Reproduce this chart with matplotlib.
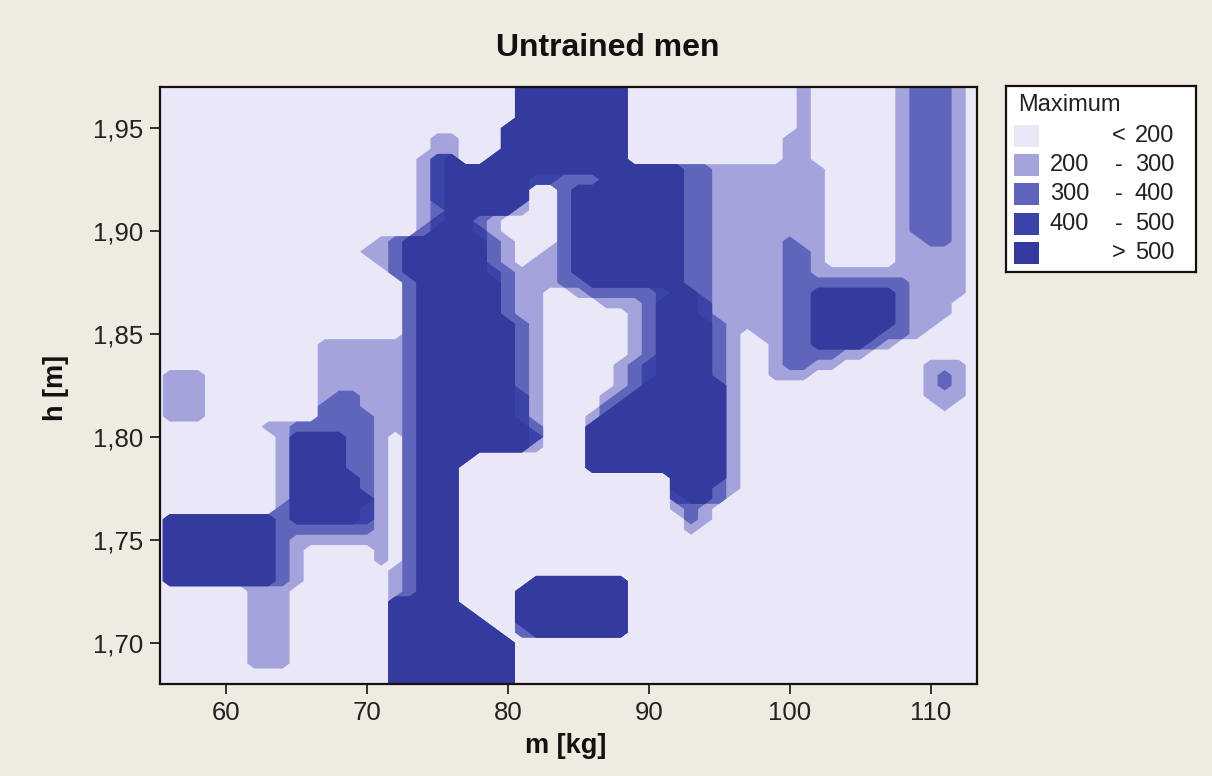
import numpy as np
import matplotlib
matplotlib.use("Agg")
import matplotlib.pyplot as plt
from matplotlib.patches import Rectangle

plt.rcParams['font.family'] = ['Liberation Sans', 'DejaVu Sans']

# grid of the contour map: mass (kg) columns, height (m) rows from top (1.97) to bottom (1.68)
mass_kg = list(range(55, 114))
height_m = list(np.round(np.linspace(1.97, 1.68, 59), 3))

# class at each grid node, run-length coded ("value:count")
# 0: < 200, 1: 200-300, 2: 300-400, 3: 400-500, 4: > 500
class_rows = [
    "0:26 4:8 0:12 1 0:6 1 2:3 1 0",                                  # 1.970
    "0:26 4:8 0:12 1 0:6 1 2:3 1 0",                                  # 1.965
    "0:26 4:8 0:12 1 0:6 1 2:3 1 0",                                  # 1.960
    "0:26 4:8 0:12 1 0:6 1 2:3 1 0",                                  # 1.955
    "0:25 4:9 0:12 1 0:6 1 2:3 1 0",                                  # 1.950
    "0:20 1:2 0:3 4:9 0:11 1:2 0:6 1 2:3 1 0",                        # 1.945
    "0:20 1:2 0:3 4:9 0:11 1:2 0:6 1 2:3 1 0",                        # 1.940
    "0:19 1 3 4 0:2 4:10 0:11 1:2 0:6 1 2:3 1 0",                     # 1.935
    "0:19 1 3 4:17 2:2 1:8 0:5 1 2:3 1 0",                            # 1.930
    "0:19 1 3 4:6 3:2 2:3 4:6 2:2 1:8 0:5 1 2:3 1 0",                 # 1.925
    "0:19 1 3 4:6 0:2 2 4:8 2:2 1:8 0:5 1 2:3 1 0",                   # 1.920
    "0:19 1 3 4:6 0:2 2 4:8 2:2 1:8 0:5 1 2:3 1 0",                   # 1.915
    "0:19 1 2 4:5 1 0:2 2 4:8 2:2 1:8 0:5 1 2:3 1 0",                 # 1.910
    "0:19 1 3 4:2 2 1 0:4 2 4:8 2:2 1:8 0:5 1 2:3 1 0",               # 1.905
    "0:19 2 4:3 3 1 0:4 2 4:8 2:2 1:8 0:5 1 2:3 1 0",                 # 1.900
    "0:16 1 2 4:6 2 1 0:3 2 4:8 2:2 1:5 2 1:2 0:5 1:2 2:2 1 0",       # 1.895
    "0:15 1:2 2 4:6 2 1 0:2 1 2 4:8 2:2 1:5 2:2 1 0:5 1:5 0",         # 1.890
    "0:16 1 2 4:6 2 1 0 1:2 2 4:8 2:2 1:5 2:2 1 0:5 1:5 0",           # 1.885
    "0:17 2 4:6 3 2 1:3 2 4:8 2:2 1:5 2:2 1:11 0",                    # 1.880
    "0:18 2 4:6 2 1:3 2:2 4:7 2:2 1:5 2:9 1:4 0",                     # 1.875
    "0:18 2 4:6 2 1:2 0:2 1 2:5 3 4:2 2 1:5 2:2 4:6 2 1:4 0",         # 1.870
    "0:18 2 4:6 2 1:2 0:4 1:3 2 4:3 3 1:5 2:2 4:6 2 1:3 0:2",         # 1.865
    "0:18 2 4:6 2 1:2 0:6 1 2 4:3 3 1:5 2:2 4:6 2 1:3 0:2",           # 1.860
    "0:18 2 4:7 2 1 0:6 1 2 4:4 2 1:4 2:2 4:6 2 1:2 0:3",             # 1.855
    "0:18 2 4:7 2 1 0:6 1 2 4:4 2 1 0 1:2 2:2 4:5 2:2 1 0:4",         # 1.850
    "0:12 1:6 2 4:7 2 1 0:6 1 2 4:4 2 1 0:2 1 2:2 4:4 2 1 0:6",       # 1.845
    "0:12 1:6 2 4:7 2 1 0:6 1 2 4:4 2 1 0:2 1 2:4 1:2 0:8",           # 1.840
    "0:12 1:6 2 4:7 2 1 0:5 1 2 3 4:4 2 1 0:2 1 2:2 1:2 0:6 1:3 0",   # 1.835
    "0 1:3 0:8 1:6 2 4:7 2 1 0:5 1 2 3 4:4 2 1 0:2 1:3 0:8 1 2 1 0",  # 1.830
    "0 1:3 0:8 1:6 2 4:7 2 1 0:5 1 2 4:6 1 0:13 1 2 1 0",             # 1.825
    "0 1:3 0:8 1 2:2 1:3 2 4:7 3 1 0:4 1 2 4:7 1 0:13 1:3 0",         # 1.820
    "0 1:3 0:8 2:3 1:3 2 4:7 3 1 0:4 2 4:8 1 0:14 1 0:2",             # 1.815
    "0 1:3 0:8 2:4 1:2 2 4:7 3 1 0:3 1 4:9 1 0:17",                   # 1.810
    "0:8 1:2 2:6 1:2 2 4:8 2 0:3 4:10 1 0:17",                        # 1.805
    "0:9 1 4:4 2:2 1 0 2 4:8 3 0:3 4:10 1 0:17",                      # 1.800
    "0:9 1 4:4 2:2 1 0 2 4:8 1 0:3 4:10 1 0:17",                      # 1.795
    "0:9 1 4:4 2:2 1 0 2 4:4 0:8 4:10 1 0:17",                        # 1.790
    "0:9 1 4:4 2:2 1 0 2 4:3 0:9 4:10 1 0:17",                        # 1.785
    "0:9 1 4:5 2 1 0 2 4:3 0:15 4:4 1 0:17",                          # 1.780
    "0:9 1 4:5 2 1 0 2 4:3 0:15 4:3 2 1 0:17",                        # 1.775
    "0:9 1 4:6 1 0 2 4:3 0:15 3 4:2 2 0:18",                          # 1.770
    "0:9 2 4:5 3 1 0 2 4:3 0:15 1 2 1 0:19",                          # 1.765
    "0 4:8 2 4:5 3 1 0 2 4:3 0:16 2 1 0:19",                          # 1.760
    "0 4:8 2:7 1 0 2 4:3 0:16 1 0:20",                                # 1.755
    "0 4:8 2 1:7 0 2 4:3 0:37",                                       # 1.750
    "0 4:8 2 1 0:5 1 0 2 4:3 0:37",                                   # 1.745
    "0 4:8 2 1 0:5 1 0 2 4:3 0:37",                                   # 1.740
    "0 4:8 2 1 0:6 1 2 4:3 0:37",                                     # 1.735
    "0 4:8 2 1 0:6 1 2 4:3 0:5 4:7 0:25",                             # 1.730
    "0:7 1:3 0:7 1 2 4:3 0:4 4:8 0:25",                               # 1.725
    "0:7 1:3 0:7 4:5 0:4 4:8 0:25",                                   # 1.720
    "0:7 1:3 0:7 4:6 0:3 4:8 0:25",                                   # 1.715
    "0:7 1:3 0:7 4:7 0:2 4:8 0:25",                                   # 1.710
    "0:7 1:3 0:7 4:8 0 2 4:7 0:25",                                   # 1.705
    "0:7 1:3 0:7 4:9 0:33",                                           # 1.700
    "0:7 1:3 0:7 4:9 0:33",                                           # 1.695
    "0:7 1:3 0:7 4:9 0:33",                                           # 1.690
    "0:17 4:9 0:33",                                                  # 1.685
    "0:17 4:9 0:33",                                                  # 1.680
]

levels = [200, 300, 400, 500]
fill_colors = ["#EAE8F7", "#A4A3DC", "#5F65BA", "#3A44A8", "#353B9E"]

x_ticks = [60, 70, 80, 90, 100, 110]
y_ticks = [1.70, 1.75, 1.80, 1.85, 1.90, 1.95]


def expand(row):
    out = []
    for tok in row.split():
        if ':' in tok:
            v, n = tok.split(':')
            out += [int(v)] * int(n)
        else:
            out.append(int(tok))
    return out


grid = np.array([expand(r) for r in class_rows])
assert grid.shape == (len(height_m), len(mass_kg)), grid.shape

X, Y = np.meshgrid(mass_kg, height_m)

bg = "#F0EBE1"
fig = plt.figure(figsize=(12.12, 7.76), dpi=100, facecolor=bg)
ax = fig.add_axes([160 / 1212, 1 - 684 / 776, 817 / 1212, 597 / 776])
ax.set_facecolor(fill_colors[0])
for k in range(1, len(fill_colors)):
    ax.contourf(X, Y, (grid >= k).astype(float), levels=[0.5, 1.5],
                colors=[fill_colors[k]], antialiased=True)

ax.set_xlim(55.3, 113.3)
ax.set_ylim(1.68, 1.97)
ax.set_xticks(x_ticks)
ax.set_xticklabels([str(v) for v in x_ticks])
ax.set_yticks(y_ticks)
ax.set_yticklabels([f"{v:.2f}".replace('.', ',') for v in y_ticks])
ax.tick_params(direction='out', length=7, width=1.3, labelsize=18.5,
               pad=5, colors='#222222')
for s in ax.spines.values():
    s.set_linewidth(1.6)
    s.set_color('#111111')

fig.text(608 / 1212, 1 - 48 / 776, "Untrained men", ha='center', va='center',
         fontsize=23, fontweight='bold', color='#111111')
fig.text(566 / 1212, 1 - 746 / 776, "m [kg]", ha='center', va='center',
         fontsize=19.5, fontweight='bold', color='#111111')
fig.text(56 / 1212, 1 - 388 / 776, "h [m]", ha='center', va='center',
         rotation=90, fontsize=19.5, fontweight='bold', color='#111111')

# legend box
lax = fig.add_axes([1006 / 1212, 1 - 272 / 776, 190 / 1212, 186 / 776])
lax.set_xlim(0, 190)
lax.set_ylim(186, 0)
lax.set_xticks([])
lax.set_yticks([])
lax.set_facecolor('white')
for s in lax.spines.values():
    s.set_linewidth(1.6)
    s.set_color('#111111')
lax.text(12, 19, "Maximum", ha='left', va='center', fontsize=17, color='#222222')

left_txt = [""] + [str(v) for v in levels[:-1]] + [""]
mid_txt = ["<"] + ["-"] * (len(levels) - 1) + [">"]
right_txt = [str(v) for v in levels] + [str(levels[-1])]
for i, col in enumerate(fill_colors):
    yc = 50 + i * 29.2
    lax.add_patch(Rectangle((8, yc - 11), 25, 22, facecolor=col, edgecolor='none'))
    lax.text(44, yc, left_txt[i], ha='left', va='center', fontsize=17, color='#222222')
    lax.text(113, yc, mid_txt[i], ha='center', va='center', fontsize=17, color='#222222')
    lax.text(168, yc, right_txt[i], ha='right', va='center', fontsize=17, color='#222222')

fig.savefig("out.png", dpi=100, facecolor=bg)
